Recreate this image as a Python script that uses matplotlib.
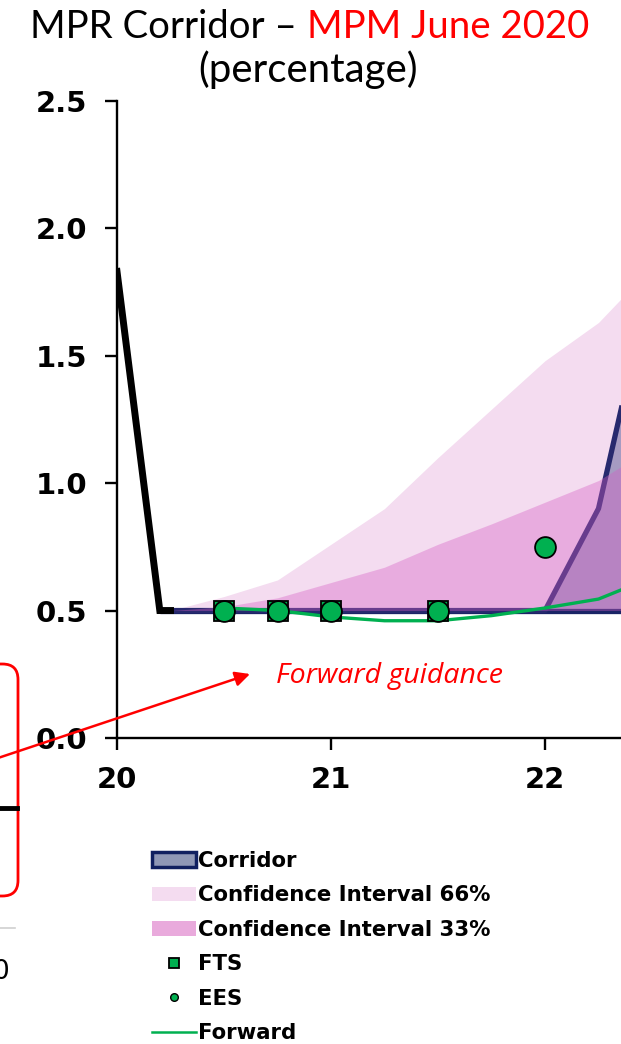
import matplotlib
matplotlib.use("Agg")
import matplotlib.pyplot as plt
from matplotlib.patches import Patch, FancyBboxPatch
from matplotlib.lines import Line2D

# ---------------- data ----------------
mpr_x = [20.0, 20.2, 20.25]
mpr_y = [1.83, 0.50, 0.50]

corr_x = [20.2, 20.25, 20.5, 20.75, 21.0, 21.25, 21.5, 21.75, 22.0, 22.25, 22.5]
corr_low = [0.5, 0.5, 0.5, 0.5, 0.5, 0.5, 0.5, 0.5, 0.5, 0.5, 0.5]
corr_up = [0.5, 0.5, 0.5, 0.5, 0.5, 0.5, 0.5, 0.5, 0.5, 0.90, 1.82]

band_x = [20.25, 20.5, 20.75, 21.0, 21.25, 21.5, 21.75, 22.0, 22.25, 22.5]
band_low = [0.5, 0.5, 0.5, 0.5, 0.5, 0.5, 0.5, 0.5, 0.5, 0.5]
ci66_up = [0.50, 0.555, 0.62, 0.76, 0.90, 1.10, 1.29, 1.48, 1.63, 1.85]
ci33_up = [0.50, 0.515, 0.55, 0.61, 0.67, 0.76, 0.84, 0.925, 1.01, 1.14]

fwd_x = [20.5, 20.75, 21.0, 21.25, 21.5, 21.75, 22.0, 22.25, 22.5]
fwd_y = [0.51, 0.50, 0.475, 0.46, 0.46, 0.48, 0.51, 0.545, 0.63]

fts_x = [20.5, 20.75, 21.0, 21.5]
fts_y = [0.5, 0.5, 0.5, 0.5]
ees_x = [20.5, 20.75, 21.0, 21.5, 22.0]
ees_y = [0.5, 0.5, 0.5, 0.5, 0.75]

xticks = [20, 21, 22]
xticklabels = ["20", "21", "22"]
yticks = [0.0, 0.5, 1.0, 1.5, 2.0, 2.5]
yticklabels = ["0.0", "0.5", "1.0", "1.5", "2.0", "2.5"]

legend_labels = ["Corridor", "Confidence Interval 66%", "Confidence Interval 33%",
                 "FTS", "EES", "Forward"]

# ---------------- colours ----------------
NAVY = "#27296e"
LIGHT_PINK = "#f4dcf0"
MED_PINK = "#d65dc4"
GREEN = "#00b050"

W, H = 621, 1044
fig = plt.figure(figsize=(W / 100, H / 100), dpi=100)

def fx(px):
    return px / W

def fy(py):
    return 1 - py / H

ax = fig.add_axes([fx(117), fy(738), 1 - fx(117), fy(100.7) - fy(738)])
ax.set_xlim(20, 20 + (621 - 117) / 214)
ax.set_ylim(0, 2.5)

# light band (opaque), corridor, medium band (transparent) on top
ax.fill_between(band_x, band_low, ci66_up, color=LIGHT_PINK, lw=0, zorder=1)
ax.fill_between(corr_x, corr_low, corr_up, color="#283278", alpha=0.38, lw=0, zorder=2)
ax.plot(corr_x, corr_low, color="#1a2466", lw=3.8, zorder=2.5, solid_capstyle="butt")
ax.plot(corr_x, corr_up, color=NAVY, lw=3.8, zorder=2.5, solid_capstyle="butt")
ax.fill_between(band_x, band_low, ci33_up, color=MED_PINK, alpha=0.373, lw=0, zorder=3)

ax.plot(fwd_x, fwd_y, color=GREEN, lw=2.4, zorder=4)
ax.plot(mpr_x, mpr_y, color="black", lw=5.0, zorder=5, solid_joinstyle="miter")
ax.plot(fts_x, fts_y, ls="none", marker="s", ms=14, mfc=GREEN, mec="black", mew=1.3, zorder=6)
ax.plot(ees_x, ees_y, ls="none", marker="o", ms=15, mfc=GREEN, mec="black", mew=1.3, zorder=7)

for s in ["top", "right"]:
    ax.spines[s].set_visible(False)
for s in ["left", "bottom"]:
    ax.spines[s].set_linewidth(1.7)
    ax.spines[s].set_color("black")

ax.set_xticks(xticks)
ax.set_xticklabels(xticklabels)
ax.set_yticks(yticks)
ax.set_yticklabels(yticklabels)
ax.tick_params(axis="both", direction="out", length=8.5, width=1.7, color="black")
ax.tick_params(axis="y", pad=13)
ax.tick_params(axis="x", pad=12)
for lab in ax.get_xticklabels() + ax.get_yticklabels():
    lab.set_fontfamily("DejaVu Sans")
    lab.set_fontweight("bold")
    lab.set_fontsize(21)

# title (two colours, placed side by side)
renderer = fig.canvas.get_renderer()
t1 = fig.text(fx(30), fy(38), "MPR Corridor \u2013 ", ha="left", va="baseline",
              fontsize=27.6, family="Lato", color="black")
bb = t1.get_window_extent(renderer=renderer)
t2 = fig.text(bb.x1 / W, fy(38), "MPM June 2020", ha="left", va="baseline",
              fontsize=27.6, family="Lato", color="red")
fig.text(fx(308), fy(82), "(percentage)", ha="center", va="baseline",
         fontsize=29, family="Lato", color="black")

# forward guidance annotation
fig.text(fx(390), fy(676), "Forward guidance", ha="center", va="center",
         fontsize=20.5, family="Open Sans", style="italic", color="red")
ax.annotate("", xy=(fx(250), fy(674)), xytext=(fx(-2), fy(758)),
            xycoords="figure fraction", textcoords="figure fraction",
            arrowprops=dict(arrowstyle="-|>", color="red", lw=1.8,
                            mutation_scale=22, shrinkA=0, shrinkB=0),
            annotation_clip=False)

# pieces of neighbouring slide elements on the left edge
box = FancyBboxPatch((fx(-200), fy(896)), fx(218), fy(664) - fy(896),
                     boxstyle="round,pad=0,rounding_size=0.025",
                     transform=fig.transFigure, fill=False, ec="red", lw=2,
                     mutation_aspect=W / H)
fig.add_artist(box)
fig.add_artist(Line2D([0, fx(17)], [fy(808), fy(808)], color="black", lw=3.5,
                      transform=fig.transFigure))
fig.add_artist(Line2D([0, fx(15)], [fy(928), fy(928)], color="#d0d0d0", lw=1.2,
                      transform=fig.transFigure))
fig.text(fx(9), fy(972), "0", ha="right", va="center", fontsize=19,
         family="DejaVu Sans", color="black")

# legend
handles = [
    Patch(facecolor="#8f98b6", edgecolor="#102060", lw=2.5),
    Patch(facecolor=LIGHT_PINK, edgecolor="none"),
    Patch(facecolor="#e9aadc", edgecolor="none"),
    Line2D([], [], ls="none", marker="s", ms=6.5, mfc=GREEN, mec="black", mew=1.3),
    Line2D([], [], ls="none", marker="o", ms=5.5, mfc=GREEN, mec="black", mew=1.0),
    Line2D([], [], color=GREEN, lw=1.8),
]
leg = fig.legend(handles, legend_labels, loc="upper left",
                 bbox_to_anchor=(fx(152), fy(851)), frameon=False,
                 prop={"family": "DejaVu Sans", "weight": "bold", "size": 15.3},
                 handlelength=2.07, handleheight=0.7, handletextpad=0.1,
                 labelspacing=0.68, borderpad=0, borderaxespad=0)

fig.savefig("out.png", dpi=100)
